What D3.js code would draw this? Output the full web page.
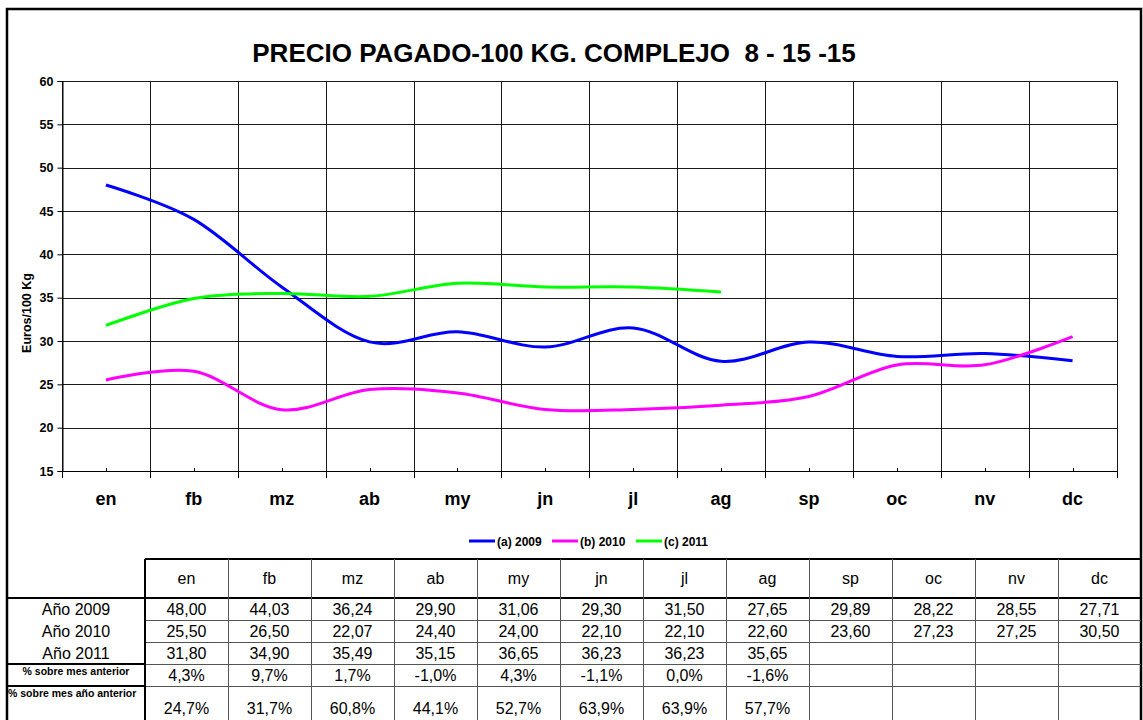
<!DOCTYPE html>
<html>
<head>
<meta charset="utf-8">
<script src="https://cdn.jsdelivr.net/npm/d3@7/dist/d3.min.js"></script>
<style>
  html, body { margin: 0; padding: 0; background: #fff; }
  svg { display: block; font-family: "Liberation Sans", Arial, sans-serif; }
</style>
</head>
<body>
<svg id="chart" width="1143" height="720"></svg>
<script>
// Months (chart axis and table header)
const months = ["en", "fb", "mz", "ab", "my", "jn", "jl", "ag", "sp", "oc", "nv", "dc"];

// Price per 100 kg, euros
const year2009 = [48.00, 44.03, 36.24, 29.90, 31.06, 29.30, 31.50, 27.65, 29.89, 28.22, 28.55, 27.71];
const year2010 = [25.50, 26.50, 22.07, 24.40, 24.00, 22.10, 22.10, 22.60, 23.60, 27.23, 27.25, 30.50];
const year2011 = [31.80, 34.90, 35.49, 35.15, 36.65, 36.23, 36.23, 35.65];

// Percentage rows of the table
const pctPrevMonth = [4.3, 9.7, 1.7, -1.0, 4.3, -1.1, 0.0, -1.6];
const pctPrevYear = [24.7, 31.7, 60.8, 44.1, 52.7, 63.9, 63.9, 57.7];

const seriesNames = ["(a) 2009", "(b) 2010", "(c) 2011"];
const rowLabels = ["Año 2009", "Año 2010", "Año 2011"];
const yTicks = [15, 20, 25, 30, 35, 40, 45, 50, 55, 60];

const colors = ["#0000ff", "#ff00ff", "#00ff00"];
const series = [year2009, year2010, year2011];

const svg = d3.select("#chart");

// Plot area
const plot = { left: 62, right: 1116.5, top: 81, bottom: 471 };

const x = d3.scaleBand().domain(months).range([plot.left, plot.right]).paddingInner(0).paddingOuter(0);
const y = d3.scaleLinear().domain([15, 60]).range([plot.bottom, plot.top]);

// Outer frame
svg.append("path")
  .attr("d", "M7,722 L7,9 L1141,9 L1141,722")
  .attr("fill", "none").attr("stroke", "#000").attr("stroke-width", 2.5);

// Title
svg.append("text")
  .attr("x", 554).attr("y", 62)
  .attr("text-anchor", "middle")
  .attr("font-size", 26).attr("font-weight", "bold")
  .attr("xml:space", "preserve")
  .text("PRECIO PAGADO-100 KG. COMPLEJO  8 - 15 -15");

// Horizontal gridlines
const grid = svg.append("g").attr("shape-rendering", "crispEdges");
grid.selectAll("line.h").data(yTicks).join("line")
  .attr("class", "h")
  .attr("x1", plot.left).attr("x2", plot.right)
  .attr("y1", d => Math.round(y(d)) + 0.5).attr("y2", d => Math.round(y(d)) + 0.5)
  .attr("stroke", "#1a1a1a").attr("stroke-width", 1);

// Vertical gridlines at category boundaries
const bounds = months.map(m => x(m)).concat([plot.right]);
grid.selectAll("line.v").data(bounds).join("line")
  .attr("class", "v")
  .attr("x1", d => Math.round(d) + 0.5).attr("x2", d => Math.round(d) + 0.5)
  .attr("y1", plot.top).attr("y2", plot.bottom)
  .attr("stroke", "#1a1a1a").attr("stroke-width", 1);

// Y axis
const yAxis = svg.append("g")
  .attr("transform", `translate(${Math.round(plot.left) + 0.5},0)`)
  .call(d3.axisLeft(y).tickValues(yTicks).tickSize(5).tickPadding(4).tickFormat(d3.format("d")));
yAxis.select(".domain").attr("stroke", "#000");
yAxis.selectAll(".tick line").attr("stroke", "#000");
yAxis.selectAll("text")
  .attr("font-size", 12.5).attr("font-weight", "bold").attr("fill", "#000")
  .attr("font-family", "'Liberation Sans', Arial, sans-serif");

// X axis: boundary ticks below, small ticks at category centres above
const xAxisY = Math.round(plot.bottom) + 0.5;
svg.append("line")
  .attr("x1", plot.left).attr("x2", plot.right + 1)
  .attr("y1", xAxisY).attr("y2", xAxisY)
  .attr("stroke", "#000").attr("shape-rendering", "crispEdges");
svg.append("g").selectAll("line").data(bounds).join("line")
  .attr("x1", d => Math.round(d) + 0.5).attr("x2", d => Math.round(d) + 0.5)
  .attr("y1", xAxisY).attr("y2", xAxisY + 6)
  .attr("stroke", "#000").attr("shape-rendering", "crispEdges");
svg.append("g").selectAll("line").data(months).join("line")
  .attr("x1", d => Math.round(x(d) + x.bandwidth() / 2) + 0.5)
  .attr("x2", d => Math.round(x(d) + x.bandwidth() / 2) + 0.5)
  .attr("y1", xAxisY).attr("y2", xAxisY - 4)
  .attr("stroke", "#000").attr("shape-rendering", "crispEdges");
svg.append("g").selectAll("text").data(months).join("text")
  .attr("x", d => x(d) + x.bandwidth() / 2)
  .attr("y", 505)
  .attr("text-anchor", "middle")
  .attr("font-size", 18).attr("font-weight", "bold")
  .text(d => d);

// Y axis title
svg.append("text")
  .attr("transform", "translate(31,313) rotate(-90)")
  .attr("text-anchor", "middle")
  .attr("font-size", 12.5).attr("font-weight", "bold")
  .text("Euros/100 Kg");

// Smoothed series lines
const line = d3.line()
  .x((d, i) => x(months[i]) + x.bandwidth() / 2)
  .y(d => y(d))
  .curve(d3.curveCardinal.tension(0));

svg.append("g").selectAll("path").data(series).join("path")
  .attr("d", d => line(d))
  .attr("fill", "none")
  .attr("stroke", (d, i) => colors[i])
  .attr("stroke-width", 3);

// Legend
const legendStarts = [469, 552, 636];
const legend = svg.append("g");
seriesNames.forEach((name, i) => {
  legend.append("line")
    .attr("x1", legendStarts[i]).attr("x2", legendStarts[i] + 26)
    .attr("y1", 541).attr("y2", 541)
    .attr("stroke", colors[i]).attr("stroke-width", 3);
  legend.append("text")
    .attr("x", legendStarts[i] + 28).attr("y", 545.5)
    .attr("font-size", 12).attr("font-weight", "bold")
    .text(name);
});

// ---- Data table ----
const fmtLocale = d3.formatLocale({ decimal: ",", thousands: ".", grouping: [3], currency: ["", "€"], minus: "-" });
const fmtPrice = fmtLocale.format(".2f");
const fmtPct = v => fmtLocale.format(".1f")(v) + "%";

const tbl = { labelLeft: 7, colLeft: 145, colW: 83, right: 1141 };
const rowTops = [559, 598, 620, 642, 664, 686, 722];
const colX = i => tbl.colLeft + i * tbl.colW;

const table = svg.append("g").attr("shape-rendering", "crispEdges");

// Header row
table.append("line").attr("x1", tbl.colLeft).attr("x2", tbl.right).attr("y1", 559).attr("y2", 559)
  .attr("stroke", "#000").attr("stroke-width", 2);
table.append("line").attr("x1", tbl.labelLeft).attr("x2", tbl.right).attr("y1", 598).attr("y2", 598)
  .attr("stroke", "#000").attr("stroke-width", 2);
// Row separators in value columns
[620, 642, 664, 686].forEach(yy => {
  table.append("line").attr("x1", tbl.colLeft).attr("x2", tbl.right).attr("y1", yy + 0.5).attr("y2", yy + 0.5)
    .attr("stroke", "#555").attr("stroke-width", 1);
});
// Separators in label column
[664, 686].forEach(yy => {
  table.append("line").attr("x1", tbl.labelLeft).attr("x2", tbl.colLeft).attr("y1", yy).attr("y2", yy)
    .attr("stroke", "#000").attr("stroke-width", 1.5);
});
// Column separators
table.append("line").attr("x1", tbl.colLeft).attr("x2", tbl.colLeft).attr("y1", 559).attr("y2", 722)
  .attr("stroke", "#000").attr("stroke-width", 2);
d3.range(1, 12).forEach(i => {
  table.append("line").attr("x1", colX(i) + 0.5).attr("x2", colX(i) + 0.5).attr("y1", 559).attr("y2", 722)
    .attr("stroke", "#555").attr("stroke-width", 1);
});

// Header labels
table.selectAll("text.hdr").data(months).join("text")
  .attr("class", "hdr")
  .attr("x", (d, i) => colX(i) + tbl.colW / 2)
  .attr("y", 584)
  .attr("text-anchor", "middle")
  .attr("font-size", 16)
  .text(d => d);

// Year rows
series.forEach((vals, r) => {
  const base = rowTops[r + 1] + 17;
  table.append("text")
    .attr("x", (tbl.labelLeft + tbl.colLeft) / 2).attr("y", base)
    .attr("text-anchor", "middle").attr("font-size", 16)
    .text(rowLabels[r]);
  table.selectAll(null).data(vals).join("text")
    .attr("x", (d, i) => colX(i) + tbl.colW / 2).attr("y", base)
    .attr("text-anchor", "middle").attr("font-size", 16)
    .text(d => fmtPrice(d));
});

// Percentage rows
table.append("text")
  .attr("x", (tbl.labelLeft + tbl.colLeft) / 2).attr("y", 675)
  .attr("text-anchor", "middle").attr("font-size", 10.5).attr("font-weight", "bold")
  .text("% sobre mes anterior");
table.selectAll(null).data(pctPrevMonth).join("text")
  .attr("x", (d, i) => colX(i) + tbl.colW / 2).attr("y", 681)
  .attr("text-anchor", "middle").attr("font-size", 16)
  .text(d => fmtPct(d));

table.append("text")
  .attr("x", tbl.labelLeft + 1).attr("y", 697)
  .attr("text-anchor", "start").attr("font-size", 10.5).attr("font-weight", "bold")
  .text("% sobre mes año anterior");
table.selectAll(null).data(pctPrevYear).join("text")
  .attr("x", (d, i) => colX(i) + tbl.colW / 2).attr("y", 714)
  .attr("text-anchor", "middle").attr("font-size", 16)
  .text(d => fmtPct(d));
</script>
</body>
</html>
